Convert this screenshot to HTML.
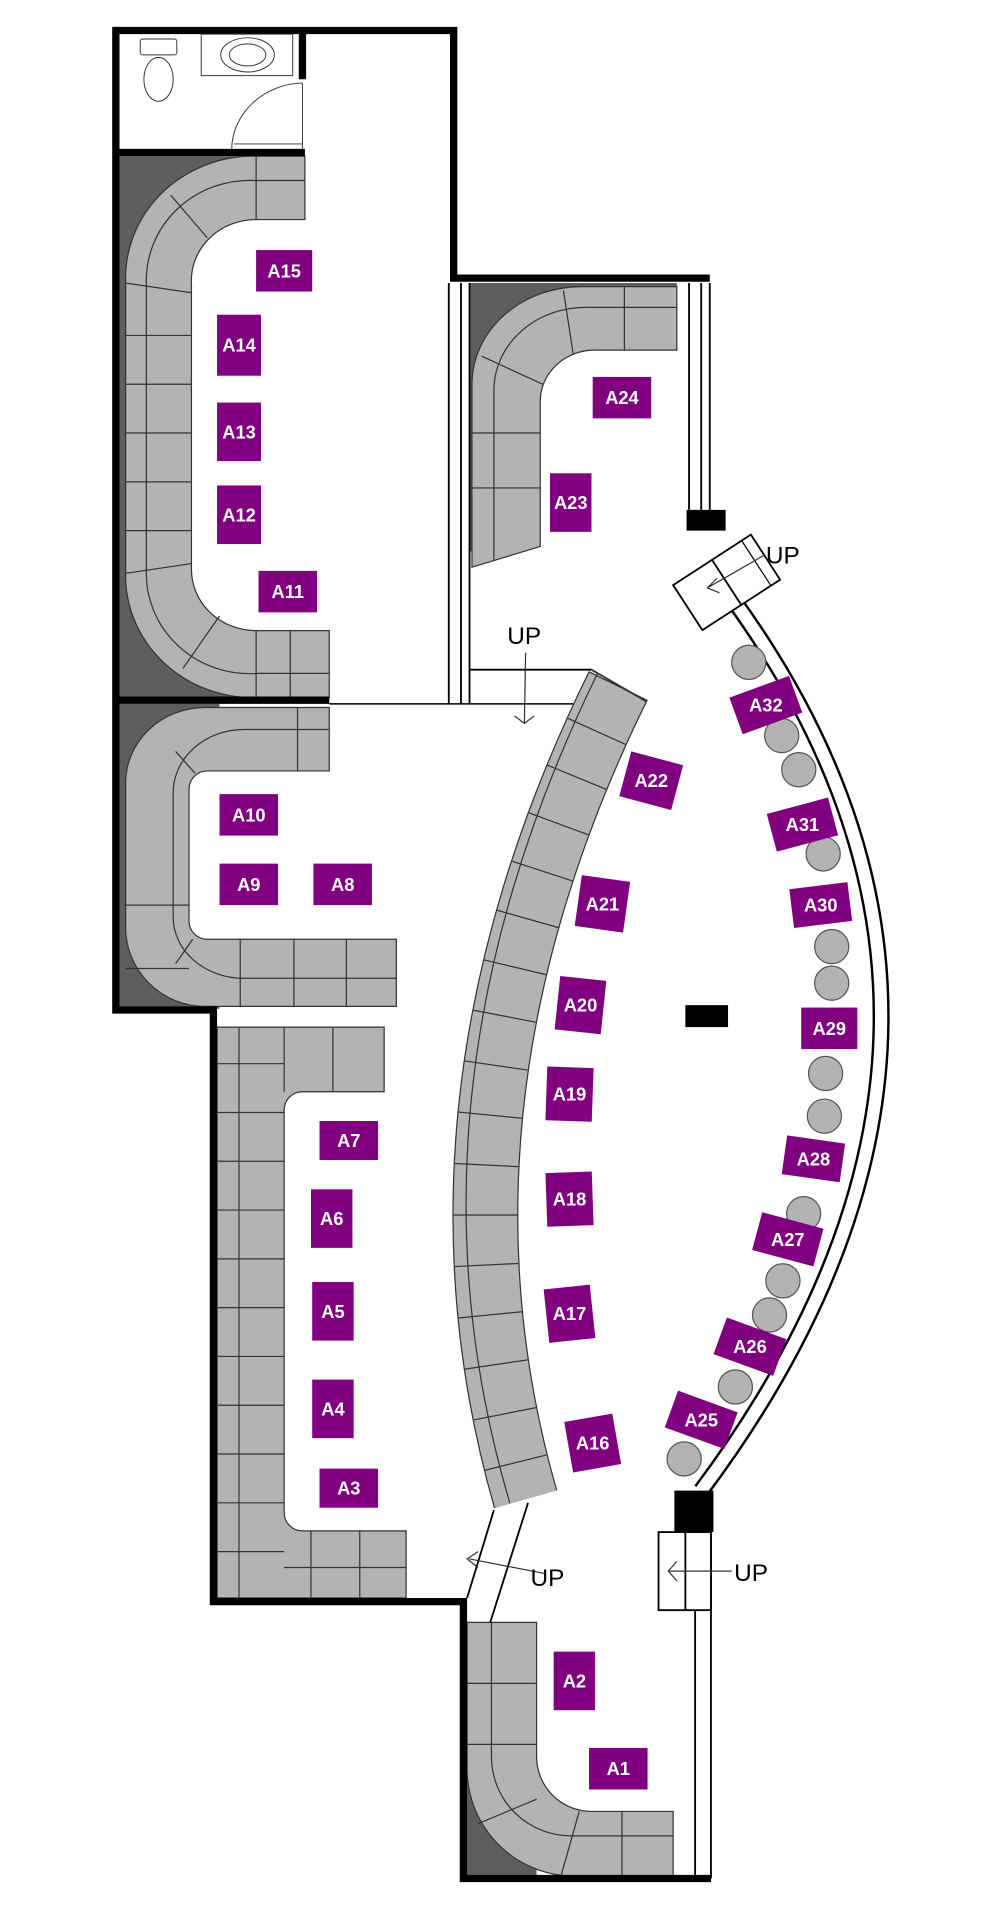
<!DOCTYPE html>
<html><head><meta charset="utf-8"><style>
html,body{margin:0;padding:0;background:#fff}
svg{display:block}
.t{fill:#800080}
.tx{fill:#fff;font-family:"Liberation Sans",sans-serif;font-weight:bold;font-size:15px;text-anchor:middle;dominant-baseline:central}
.up{font-family:"Liberation Sans",sans-serif;font-size:20px;fill:#000}
.seat{fill:#b3b3b3;stroke:#333;stroke-width:1}
.ln{stroke:#333;stroke-width:1;fill:none}
.c{fill:#b3b3b3;stroke:#555;stroke-width:1}
</style></head><body>
<svg width="1000" height="1920" viewBox="0 0 820 1574" preserveAspectRatio="none" xmlns="http://www.w3.org/2000/svg">
<rect width="820" height="1574" fill="#fff"/>

<!-- dark backgrounds -->
<rect x="98" y="128" width="152" height="444" fill="#5e5e5e"/>
<rect x="98" y="577" width="82" height="250" fill="#5e5e5e"/>
<rect x="385" y="232" width="170" height="50" fill="#5e5e5e"/>
<rect x="385" y="232" width="40" height="220" fill="#5e5e5e"/>
<rect x="382" y="1330" width="58" height="208" fill="#5e5e5e"/>

<!-- Section A11-A15 -->
<path fill="#fff" d="M252,180 H210 A53,50 0 0 0 157,233 V467 A53,50 0 0 0 210,517 H252 Z"/>
<path class="seat" d="M250,128 H205 A105,100 0 0 0 103,230 V470 A105,100 0 0 0 208,572 H270 V517 H210 A53,50 0 0 1 157,467 V233 A53,50 0 0 1 210,180 H250 Z"/>
<path class="ln" d="M250,148 H210 A85,82 0 0 0 120,232 V468 A85,82 0 0 0 212,552 H270"/>
<path class="ln" d="M210,128 V180 M210,517 V572 M238,517 V572 M103,275 H157 M103,315 H157 M103,355 H157 M103,395 H157 M103,435 H157 M103,232 L157,240 M103,470 L157,462 M140,160 L170,195 M150,548 L180,505"/>

<!-- Section A8-A10 -->
<path fill="#fff" d="M182,632 H170 A15,15 0 0 0 155,647 V755 A15,15 0 0 0 170,770 H182 Z"/>
<path class="seat" d="M270,580 H168 A65,62 0 0 0 103,642 V760 A65,65 0 0 0 168,825 H325 V770 H170 A15,15 0 0 1 155,755 V647 A15,15 0 0 1 170,632 H270 Z"/>
<path class="ln" d="M270,598 H200 A58,52 0 0 0 142,650 V752 A58,50 0 0 0 200,802 H325 M244,580 V632 M103,742 H155 M103,794 H155 M197,770 V825 M241,770 V825 M284,770 V825 M144,790 L158,770 M144,616 L160,634"/>

<!-- Section A3-A7 -->
<path class="seat" d="M178,842 H315 V895 H248 A15,15 0 0 0 233,910 V1240 A15,15 0 0 0 248,1255 H333 V1310 H178 Z"/>
<path class="ln" d="M196,842 V1310 M233,842 V895 M273,842 V895 M178,872 H233 M178,912 H233 M178,952 H233 M178,992 H233 M178,1032 H233 M178,1072 H233 M178,1112 H233 M178,1152 H233 M178,1192 H233 M178,1232 H233 M178,1272 H233 M255,1255 V1310 M295,1255 V1310 M233,1285 H333"/>

<!-- Section A1-A2 -->
<path class="seat" d="M383,1330 H440 V1440 A45,45 0 0 0 485,1485 H552 V1538 H470 A88,88 0 0 1 383,1450 Z"/>
<path class="ln" d="M403,1330 V1440 A65,65 0 0 0 470,1505 H552 M383,1380 H440 M383,1430 H440 M510,1485 V1538 M392,1495 L440,1475 M460,1538 L475,1485"/>

<!-- Section A23-A24 -->
<path class="seat" d="M555,235 H480 A90,80 0 0 0 387,315 V465 L443,448 V330 A45,42 0 0 1 490,287 H555 Z"/>
<path class="ln" d="M512,235 V287 M555,252 H480 A75,68 0 0 0 405,320 V460 M387,355 H443 M387,400 H443 M395,292 L445,315 M462,238 L470,290"/>

<!-- curved bench A16-A22 -->
<path d="M507,562 Q338,905 431,1229" fill="none" stroke="#333" stroke-width="54"/>
<path d="M507,562 Q338,905 431,1229" fill="none" stroke="#b3b3b3" stroke-width="52"/>
<path d="M507,562 Q338,905 431,1229" fill="none" stroke="#333" stroke-width="52" stroke-dasharray="1 40"/>
<path d="M490,552 Q320,900 418,1232" fill="none" stroke="#333" stroke-width="1"/>
<rect x="470" y="520" width="70" height="30" fill="#fff" transform="rotate(25 507 562)"/>
<path d="M485,549 L530,575" stroke="#333" stroke-width="1.5"/>

<!-- walkway lines near bench bottom -->
<path d="M405,1238 L383,1310 M433,1232 L402,1330" stroke="#000" stroke-width="1.5" fill="none"/>
<path d="M447,1290 L385,1278 M392,1272 L383,1278 L392,1285" stroke="#333" stroke-width="1" fill="none"/>
<text class="up" x="435" y="1300">UP</text>

<!-- right curved wall -->
<path d="M600,490 Q857,844 575,1222" fill="none" stroke="#000" stroke-width="14"/>
<path d="M600,490 Q857,844 575,1222" fill="none" stroke="#fff" stroke-width="10"/>

<!-- walls -->
<path d="M95,25 H372 V228 H582" fill="none" stroke="#000" stroke-width="6"/>
<path d="M95,22 V828 H175 V1313 H380 V1540 H583" fill="none" stroke="#000" stroke-width="6"/>
<path d="M95,125 H250 M248,25 V65 M95,574 H270" stroke="#000" stroke-width="6"/>
<path d="M270,577 H470" stroke="#000" stroke-width="1.2"/>
<path d="M368,232 V577 M378,232 V577 M385,232 V577 M385,549 H485" stroke="#000" stroke-width="1.5"/>
<path d="M565,232 V418 M575,232 V418 M582,232 V418" stroke="#000" stroke-width="1.5"/>
<path d="M570,1320 V1540 M583,1255 V1540" stroke="#000" stroke-width="1.5"/>

<!-- toilet room -->
<rect x="115" y="32" width="30" height="13" rx="2" fill="#fff" stroke="#333" stroke-width="0.8"/>
<ellipse cx="130" cy="65" rx="12" ry="18" fill="#fff" stroke="#333" stroke-width="0.8"/>
<rect x="165" y="28" width="75" height="34" fill="#fff" stroke="#333" stroke-width="0.8"/>
<ellipse cx="203" cy="45" rx="22" ry="14" fill="#fff" stroke="#333" stroke-width="0.8"/>
<ellipse cx="203" cy="45" rx="15" ry="9" fill="none" stroke="#333" stroke-width="0.8"/>
<path d="M248,68 A60,55 0 0 0 190,122 M192,118 H248 M248,68 V122" fill="none" stroke="#333" stroke-width="0.8"/>

<!-- black blocks -->
<rect x="563" y="418" width="32" height="17" fill="#000"/>
<rect x="562" y="824" width="35" height="18" fill="#000"/>
<rect x="553" y="1222" width="32" height="34" fill="#000"/>

<!-- top right stairs -->
<g transform="rotate(-33 595 478)">
<rect x="558" y="456" width="76" height="44" fill="#fff" stroke="#000" stroke-width="1.5"/>
<line x1="596" y1="456" x2="596" y2="500" stroke="#000" stroke-width="1.5"/>
<line x1="625" y1="456" x2="625" y2="500" stroke="#000" stroke-width="1"/>
</g>
<path d="M627,455 L580,482 M588,474 L580,482 L590,486" stroke="#333" stroke-width="1" fill="none"/>
<text class="up" x="628" y="462">UP</text>

<!-- bottom right stairs -->
<rect x="540" y="1256" width="43" height="64" fill="#fff" stroke="#000" stroke-width="1.5"/>
<line x1="562" y1="1256" x2="562" y2="1320" stroke="#000" stroke-width="1.5"/>
<path d="M600,1288 H548 M555,1280 L548,1288 L555,1296" stroke="#333" stroke-width="1" fill="none"/>
<text class="up" x="602" y="1296">UP</text>

<!-- UP middle -->
<text class="up" x="416" y="528">UP</text>
<path d="M431,535 L430,593 M422,587 L430,593 L438,587" stroke="#333" stroke-width="1" fill="none"/>

<!-- circles -->
<g class="c">
<ellipse cx="614" cy="543" rx="14" ry="14"/><ellipse cx="641" cy="603" rx="14" ry="14"/><ellipse cx="655" cy="631" rx="14" ry="14"/>
<ellipse cx="675" cy="700" rx="14" ry="14"/><ellipse cx="682" cy="776" rx="14" ry="14"/><ellipse cx="682" cy="806" rx="14" ry="14"/>
<ellipse cx="677" cy="880" rx="14" ry="14"/><ellipse cx="676" cy="915" rx="14" ry="14"/><ellipse cx="659" cy="995" rx="14" ry="14"/>
<ellipse cx="642" cy="1050" rx="14" ry="14"/><ellipse cx="631" cy="1078" rx="14" ry="14"/><ellipse cx="603" cy="1137" rx="14" ry="14"/>
<ellipse cx="561" cy="1196" rx="14" ry="14"/>
</g>

<!-- tags -->
<g>
<g transform="translate(233,222)"><rect class="t" x="-23" y="-17" width="46" height="34"/><text class="tx">A15</text></g>
<g transform="translate(196,283)"><rect class="t" x="-18" y="-25" width="36" height="50"/><text class="tx">A14</text></g>
<g transform="translate(196,354)"><rect class="t" x="-18" y="-24" width="36" height="48"/><text class="tx">A13</text></g>
<g transform="translate(196,422)"><rect class="t" x="-18" y="-24" width="36" height="48"/><text class="tx">A12</text></g>
<g transform="translate(236,485)"><rect class="t" x="-24" y="-17" width="48" height="34"/><text class="tx">A11</text></g>
<g transform="translate(204,668)"><rect class="t" x="-24" y="-17" width="48" height="34"/><text class="tx">A10</text></g>
<g transform="translate(204,725)"><rect class="t" x="-24" y="-17" width="48" height="34"/><text class="tx">A9</text></g>
<g transform="translate(281,725)"><rect class="t" x="-24" y="-17" width="48" height="34"/><text class="tx">A8</text></g>
<g transform="translate(286,935)"><rect class="t" x="-24" y="-16" width="48" height="32"/><text class="tx">A7</text></g>
<g transform="translate(272,999)"><rect class="t" x="-17" y="-24" width="34" height="48"/><text class="tx">A6</text></g>
<g transform="translate(273,1075)"><rect class="t" x="-17" y="-24" width="34" height="48"/><text class="tx">A5</text></g>
<g transform="translate(273,1155)"><rect class="t" x="-17" y="-24" width="34" height="48"/><text class="tx">A4</text></g>
<g transform="translate(286,1220)"><rect class="t" x="-24" y="-16" width="48" height="32"/><text class="tx">A3</text></g>
<g transform="translate(471,1378)"><rect class="t" x="-17" y="-24" width="34" height="48"/><text class="tx">A2</text></g>
<g transform="translate(507,1450)"><rect class="t" x="-24" y="-17" width="48" height="34"/><text class="tx">A1</text></g>
<g transform="translate(510,326)"><rect class="t" x="-24" y="-17" width="48" height="34"/><text class="tx">A24</text></g>
<g transform="translate(468,412)"><rect class="t" x="-17" y="-24" width="34" height="48"/><text class="tx">A23</text></g>
<g transform="translate(534,640)"><rect class="t" x="-22" y="-19" width="44" height="38" transform="rotate(15)"/><text class="tx">A22</text></g>
<g transform="translate(494,741)"><rect class="t" x="-20" y="-21" width="40" height="42" transform="rotate(8)"/><text class="tx">A21</text></g>
<g transform="translate(476,824)"><rect class="t" x="-19" y="-22" width="38" height="44" transform="rotate(6)"/><text class="tx">A20</text></g>
<g transform="translate(467,897)"><rect class="t" x="-19" y="-22" width="38" height="44" transform="rotate(2)"/><text class="tx">A19</text></g>
<g transform="translate(467,983)"><rect class="t" x="-19" y="-22" width="38" height="44" transform="rotate(-2)"/><text class="tx">A18</text></g>
<g transform="translate(467,1077)"><rect class="t" x="-19" y="-22" width="38" height="44" transform="rotate(-6)"/><text class="tx">A17</text></g>
<g transform="translate(486,1183)"><rect class="t" x="-20" y="-21" width="40" height="42" transform="rotate(-10)"/><text class="tx">A16</text></g>
<g transform="translate(628,578)"><rect class="t" x="-26" y="-16" width="52" height="32" transform="rotate(-20)"/><text class="tx">A32</text></g>
<g transform="translate(658,676)"><rect class="t" x="-26" y="-16" width="52" height="32" transform="rotate(-15)"/><text class="tx">A31</text></g>
<g transform="translate(673,742)"><rect class="t" x="-24" y="-16" width="48" height="32" transform="rotate(-7)"/><text class="tx">A30</text></g>
<g transform="translate(680,843)"><rect class="t" x="-23" y="-17" width="46" height="34"/><text class="tx">A29</text></g>
<g transform="translate(667,950)"><rect class="t" x="-24" y="-16" width="48" height="32" transform="rotate(8)"/><text class="tx">A28</text></g>
<g transform="translate(646,1016)"><rect class="t" x="-26" y="-16" width="52" height="32" transform="rotate(15)"/><text class="tx">A27</text></g>
<g transform="translate(615,1104)"><rect class="t" x="-26" y="-16" width="52" height="32" transform="rotate(20)"/><text class="tx">A26</text></g>
<g transform="translate(575,1164)"><rect class="t" x="-26" y="-16" width="52" height="32" transform="rotate(20)"/><text class="tx">A25</text></g>
</g>
</svg>
</body></html>
